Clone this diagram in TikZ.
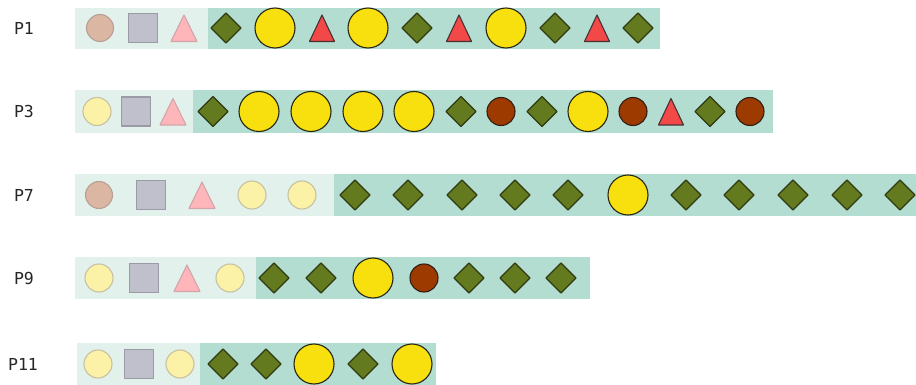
\documentclass[tikz,border=0pt]{standalone}
\usepackage{fontspec}
\setmonofont{DejaVu Sans Mono}
\definecolor{lightband}{RGB}{226,241,236}
\definecolor{darkband}{RGB}{179,221,208}
\definecolor{tanF}{RGB}{219,182,162}\definecolor{tanD}{RGB}{185,160,150}
\definecolor{sqF}{RGB}{192,192,204}\definecolor{sqD}{RGB}{155,155,165}
\definecolor{pinkF}{RGB}{255,182,187}\definecolor{pinkD}{RGB}{210,165,170}
\definecolor{pyF}{RGB}{251,242,167}\definecolor{pyD}{RGB}{200,193,160}
\definecolor{olF}{RGB}{99,122,31}\definecolor{olD}{RGB}{48,58,18}
\definecolor{yeF}{RGB}{248,224,14}\definecolor{yeD}{RGB}{40,38,20}
\definecolor{reF}{RGB}{242,72,72}\definecolor{reD}{RGB}{70,50,50}
\definecolor{brF}{RGB}{156,58,0}\definecolor{brD}{RGB}{50,30,20}
\tikzset{
  lbl/.style={font=\ttfamily\fontsize{16.5}{19}\selectfont, text=black!85, inner sep=0pt},
  lb/.style={fill=lightband, draw=none},
  db/.style={fill=darkband, draw=none},
  shp/.style={line width=1.1pt, line join=round},
  tc/.pic={\draw[shp, fill=tanF, draw=tanD] (0,0) circle[radius=13.5pt];},
  pc/.pic={\draw[shp, fill=pyF, draw=pyD] (0,0) circle[radius=14pt];},
  sq/.pic={\draw[shp, fill=sqF, draw=sqD] (-14.5,-14.5) rectangle (14.5,14.5);},
  pt/.pic={\draw[shp, fill=pinkF, draw=pinkD] (0,-13) -- (13,13.5) -- (-13,13.5) -- cycle;},
  dm/.pic={\draw[shp, fill=olF, draw=olD] (-15,0) -- (0,-15) -- (15,0) -- (0,15) -- cycle;},
  ye/.pic={\draw[shp, fill=yeF, draw=yeD] (0,0) circle[radius=20pt];},
  rt/.pic={\draw[shp, fill=reF, draw=reD] (0,-13) -- (12.5,13.5) -- (-12.5,13.5) -- cycle;},
  bc/.pic={\draw[shp, fill=brF, draw=brD] (0,0) circle[radius=14pt];},
}
\begin{document}
\begin{tikzpicture}[x=1pt,y=-1pt]
\useasboundingbox (0,0) rectangle (916,385);
% row P1
\fill[lb] (75,8) rectangle (208,49);
\fill[db] (208,8) rectangle (660,49);
\node[lbl] (l1) at (24,28) {P1};
\foreach \t/\x [count=\i] in {tc/100,sq/143,pt/184,dm/226,ye/275,rt/322,ye/368,dm/417,rt/459,ye/506,dm/555,rt/597,dm/638}
  \pic (r1s\i) at (\x,28) {\t};
% row P3
\fill[lb] (75,90) rectangle (193,133);
\fill[db] (193,90) rectangle (773,133);
\node[lbl] (l2) at (24,111.5) {P3};
\foreach \t/\x [count=\i] in {pc/97,sq/136,pt/173,dm/213,ye/259,ye/311,ye/363,ye/414,dm/461,bc/501,dm/542,ye/588,bc/633,rt/671,dm/710,bc/750}
  \pic (r2s\i) at (\x,111.5) {\t};
% row P7
\fill[lb] (75,174) rectangle (334,216);
\fill[db] (334,174) rectangle (916,216);
\node[lbl] (l3) at (24,195) {P7};
\foreach \t/\x [count=\i] in {tc/99,sq/151,pt/202,pc/252,pc/302,dm/355,dm/408,dm/462,dm/515,dm/568,ye/628,dm/686,dm/739,dm/793,dm/847,dm/900}
  \pic (r3s\i) at (\x,195) {\t};
% row P9
\fill[lb] (75,257) rectangle (256,299);
\fill[db] (256,257) rectangle (590,299);
\node[lbl] (l4) at (24,278) {P9};
\foreach \t/\x [count=\i] in {pc/99,sq/144,pt/187,pc/230,dm/274,dm/321,ye/373,bc/424,dm/469,dm/515,dm/561}
  \pic (r4s\i) at (\x,278) {\t};
% row P11
\fill[lb] (77,343) rectangle (200,385);
\fill[db] (200,343) rectangle (436,385);
\node[lbl] (l5) at (23,364) {P11};
\foreach \t/\x [count=\i] in {pc/98,sq/139,pc/180,dm/223,dm/266,ye/314,dm/363,ye/412}
  \pic (r5s\i) at (\x,364) {\t};
\end{tikzpicture}
\end{document}
